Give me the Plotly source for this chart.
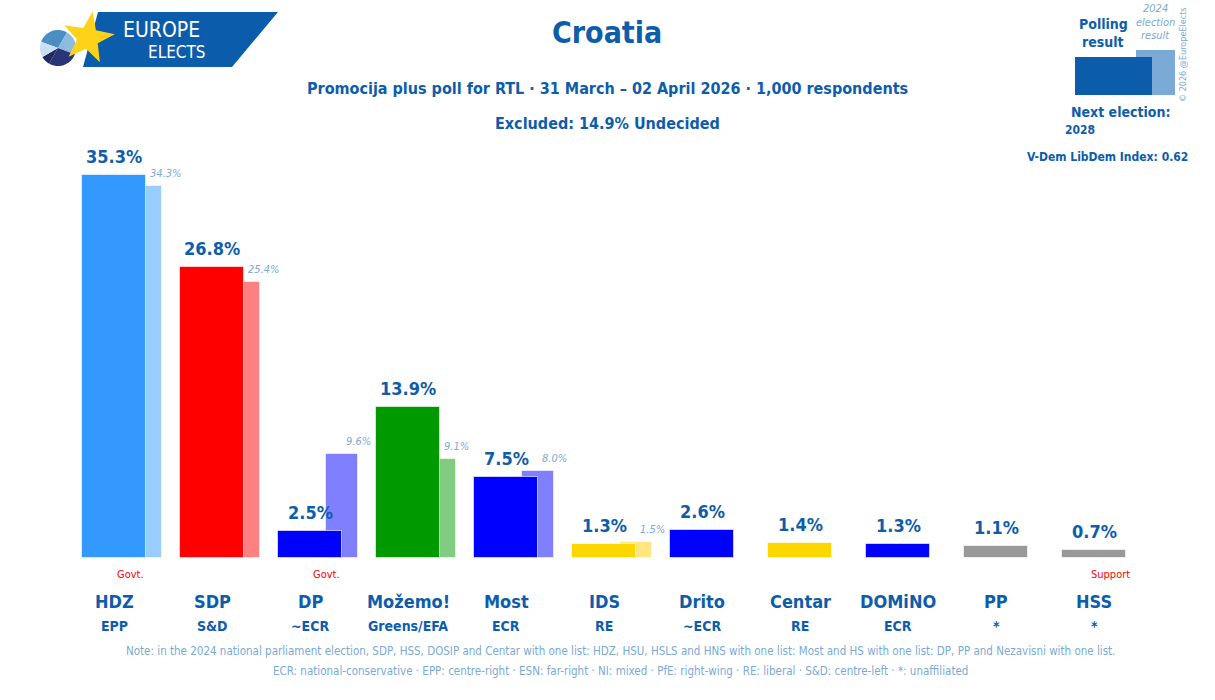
import plotly.graph_objects as go
import math

# ---------------- data ----------------
parties = ["HDZ", "SDP", "DP", "Možemo!", "Most", "IDS", "Drito", "Centar", "DOMiNO", "PP", "HSS"]
groups = ["EPP", "S&amp;D", "~ECR", "Greens/EFA", "ECR", "RE", "~ECR", "RE", "ECR", "*", "*"]
poll = [35.3, 26.8, 2.5, 13.9, 7.5, 1.3, 2.6, 1.4, 1.3, 1.1, 0.7]
prev = [34.3, 25.4, 9.6, 9.1, 8.0, 1.5, None, None, None, None, None]
status = ["Govt.", "", "Govt.", "", "", "", "", "", "", "", "Support"]
main_colors = ["#3399FF", "#FF0000", "#0000FF", "#009900", "#0000FF", "#FFD700",
               "#0000FF", "#FFD700", "#0000FF", "#999999", "#999999"]
prev_colors = ["#99CCFF", "#FF8080", "#8080FF", "#80CC80", "#8080FF", "#FFE680",
               "#8080FF", "#FFE680", "#8080FF", "#CCCCCC", "#CCCCCC"]

TITLE = "Croatia"
SUB1 = "Promocija plus poll for RTL · 31 March – 02 April 2026 · 1,000 respondents"
SUB2 = "Excluded: 14.9% Undecided"
NOTE1 = ("Note: in the 2024 national parliament election, SDP, HSS, DOSIP and Centar with one list: "
         "HDZ, HSU, HSLS and HNS with one list: Most and HS with one list: DP, PP and Nezavisni with one list.")
NOTE2 = ("ECR: national-conservative · EPP: centre-right · ESN: far-right · NI: mixed · PfE: right-wing · "
         "RE: liberal · S&amp;D: centre-left · *: unaffiliated")

# ---------------- layout geometry ----------------
W, H = 1215, 700
L, R, T, B = 65, 72, 120, 142
PW, PH = W - L - R, H - T - B
SP = 98.0  # px per category
YMAX = PH / 10.85

def px(x):
    return (x - L) / PW

def py(y):
    return (H - B - y) / PH

DARK = "#0E5DAA"
LIGHT = "#7BA9D6"
FONT = "Liberation Sans Narrow, DejaVu Sans Condensed, Roboto, sans-serif"

n = len(parties)
xs = list(range(n))

fig = go.Figure()
# previous-election bars (behind)
px_prev = [i for i in xs if prev[i] is not None]
fig.add_trace(go.Bar(
    x=px_prev, y=[prev[i] for i in px_prev],
    offset=16 / SP, width=32 / SP,
    marker=dict(color=[prev_colors[i] for i in px_prev], line=dict(color="rgba(255,255,255,0.6)", width=1)),
    hoverinfo="skip", showlegend=False))
# poll bars
fig.add_trace(go.Bar(
    x=xs, y=poll, offset=-32 / SP, width=64 / SP,
    marker=dict(color=main_colors, line=dict(color="rgba(255,255,255,0.6)", width=1)),
    hoverinfo="skip", showlegend=False))

ann = []
for i in xs:
    ann.append(dict(x=i, y=poll[i], xref="x", yref="y", text=f"<b>{poll[i]:.1f}%</b>",
                    showarrow=False, yanchor="bottom", yshift=6,
                    font=dict(size=18, color=DARK, family=FONT)))
    if prev[i] is not None:
        ann.append(dict(x=i + 34 / SP, y=prev[i], xref="x", yref="y", text=f"<i>{prev[i]:.1f}%</i>",
                        showarrow=False, xanchor="left", yanchor="bottom", yshift=4,
                        font=dict(size=11, color=LIGHT, family=FONT)))
    if status[i]:
        ann.append(dict(x=i + 16 / SP, y=py(574), xref="x", yref="paper", text=status[i],
                        showarrow=False, yanchor="middle", xanchor="center",
                        font=dict(size=11, color="#FF0000", family=FONT)))
    ann.append(dict(x=i, y=py(601), xref="x", yref="paper", text=f"<b>{parties[i]}</b>",
                    showarrow=False, yanchor="middle", xanchor="center",
                    font=dict(size=18, color=DARK, family=FONT)))
    ann.append(dict(x=i, y=py(626), xref="x", yref="paper", text=f"<b>{groups[i]}</b>",
                    showarrow=False, yanchor="middle", xanchor="center",
                    font=dict(size=14, color=DARK, family=FONT)))

def txt(x, y, text, size, color=DARK, xanchor="center", angle=0):
    ann.append(dict(x=px(x), y=py(y), xref="paper", yref="paper", text=text, showarrow=False,
                    xanchor=xanchor, yanchor="middle", textangle=angle,
                    font=dict(size=size, color=color, family=FONT)))

txt(607, 32, f"<b>{TITLE}</b>", 30)
txt(607, 88, f"<b>{SUB1}</b>", 16)
txt(607, 123, f"<b>{SUB2}</b>", 16)
txt(620, 651, NOTE1, 11.5, LIGHT)
txt(620, 671, NOTE2, 11.5, LIGHT)

# top-right legend
txt(1103, 24, "<b>Polling</b>", 14)
txt(1103, 42, "<b>result</b>", 14)
txt(1155, 8, "<i>2024</i>", 11, LIGHT)
txt(1155, 22, "<i>election</i>", 11, LIGHT)
txt(1155, 36, "<i>result</i>", 11, LIGHT)
txt(1183, 55, "© 2026 @EuropeElects", 9, LIGHT, angle=-90)
txt(1120, 112, "<b>Next election:</b>", 14)
txt(1080, 130, "<b>2028</b>", 12)
txt(1190, 157, "<b>V-Dem LibDem Index: 0.62</b>", 12, xanchor="right")

# logo text
txt(161, 30, "EUROPE", 21, "white")
txt(177, 52, "ELECTS", 17, "white")

shapes = []
def rect(x0, y0, x1, y1, color):
    shapes.append(dict(type="rect", xref="paper", yref="paper", x0=px(x0), x1=px(x1),
                       y0=py(y1), y1=py(y0), fillcolor=color, line=dict(width=0), layer="above"))

def poly(points, color):
    d = "M " + " L ".join(f"{px(a):.5f},{py(b):.5f}" for a, b in points) + " Z"
    shapes.append(dict(type="path", xref="paper", yref="paper", path=d, fillcolor=color,
                       line=dict(width=0), layer="above"))

rect(1136, 50, 1175, 95, "#7BAAD6")
rect(1075, 57, 1152, 95, "#0B5CAB")

# logo: band
poly([(98, 12), (278, 12), (232, 67), (83, 67)], "#0B5CAB")
# logo: pie
cx, cy, r = 58, 48, 18
wedges = [(200, 300, "#4A8FC4"), (300, 380, "#8DBBE0"), (20, 120, "#2A3578"),
          (120, 150, "#1F2A60"), (150, 200, "#C9E0F2")]
for a0, a1, col in wedges:
    pts = [(cx, cy)]
    for k in range(13):
        a = math.radians(a0 + (a1 - a0) * k / 12)
        pts.append((cx + r * math.cos(a), cy + r * math.sin(a)))
    poly(pts, col)
# logo: star
scx, scy, ro, ri = 88, 38, 27, 11
pts = []
for k in range(10):
    a = math.radians(-80 + 36 * k)
    rr = ro if k % 2 == 0 else ri
    pts.append((scx + rr * math.cos(a), scy + rr * math.sin(a)))
poly(pts, "#FFD21A")

fig.update_layout(
    width=W, height=H, autosize=False,
    margin=dict(l=L, r=R, t=T, b=B, pad=0),
    plot_bgcolor="white", paper_bgcolor="white",
    barmode="overlay", bargap=0,
    xaxis=dict(range=[-0.5, n - 0.5], visible=False, fixedrange=True),
    yaxis=dict(range=[0, YMAX], visible=False, fixedrange=True),
    annotations=ann, shapes=shapes,
    font=dict(family=FONT),
)

fig.write_html("out.html", config={"displayModeBar": False})
